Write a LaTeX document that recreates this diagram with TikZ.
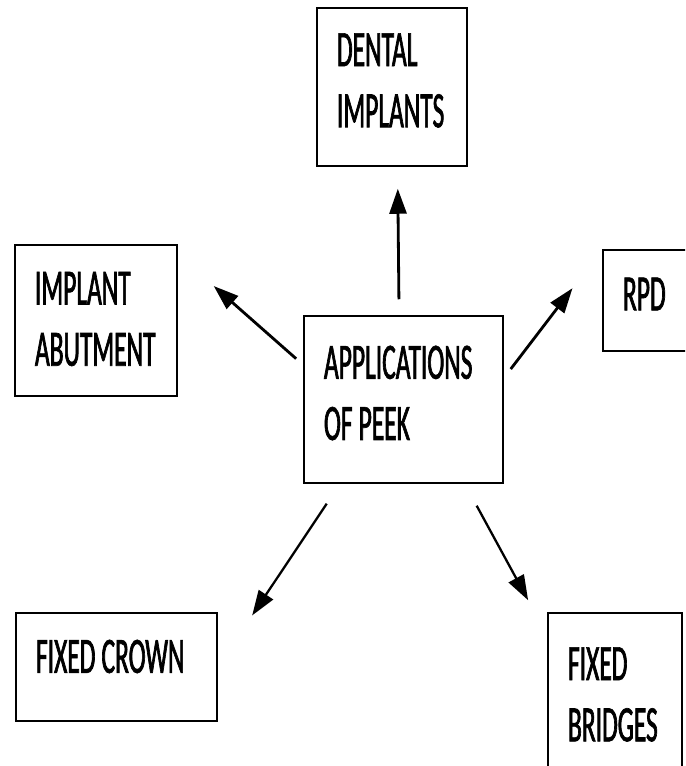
\documentclass[tikz,border=0pt]{standalone}
\usepackage{fontspec}
\usetikzlibrary{arrows.meta}
\newfontfamily\peekfont{Carlito}[FakeStretch=0.5,FakeBold=1.3]

\tikzset{
	appbox/.style={draw,rectangle,line width=0.85pt,align=left,inner xsep=0.4cm,
		execute at begin node={\spaceskip=0.12em plus 0.02em\relax},
		execute at end node={\par\kern#1},
		font={\peekfont\fontsize{29}{34.8}\selectfont}},
	appbox/.default=0.26cm,
	apparrow/.style={-{Triangle[length=0.5cm,width=0.34cm]},line width=1.6pt}
}

\begin{document}
\begin{tikzpicture}
	\useasboundingbox (0,0) rectangle (13.7,15.32);
	\clip (0,0) rectangle (13.7,15.32);
	% boxes
	\node[appbox,text width=2.2cm,minimum height=3.16cm] (dental) at (7.84,13.58){DENTAL\\IMPLANTS};
	\node[appbox,text width=1.6cm,minimum height=2.02cm] (rpd) at (13.26,9.31){RPD};
	\node[appbox,text width=3.18cm,minimum height=3.34cm] (peek) at (8.07,7.33){APPLICATIONS\\OF PEEK};
	\node[appbox=0.06cm,text width=2.44cm,minimum height=3.02cm] (abut) at (1.92,8.91){IMPLANT\\ABUTMENT};
	\node[appbox=0.42cm,text width=3.22cm,minimum height=2.16cm] (crown) at (2.33,1.98){FIXED CROWN};
	\node[appbox=0.54cm,text width=1.88cm,minimum height=3.8cm] (bridges) at (12.30,1.16){FIXED\\BRIDGES};
	% arrows
	\draw (peek.93.8) edge [apparrow, shorten <=0.32cm, shorten >=0.44cm] (dental.274.3);
	\draw (peek.161.5) edge [apparrow, shorten <=0.19cm, shorten >=0.96cm] (abut.39.3);
	\draw (peek.12.7) edge [apparrow, shorten <=0.23cm, shorten >=0.98cm] (rpd.north west);
	\draw (peek.233) edge [apparrow, line width=1.3pt, shorten <=0.48cm, shorten >=1.24cm] (crown.east);
	\draw (peek.306) edge [apparrow, line width=1.3pt, shorten <=0.50cm, shorten >=0.80cm] (bridges.133.8);
\end{tikzpicture}
\end{document}
